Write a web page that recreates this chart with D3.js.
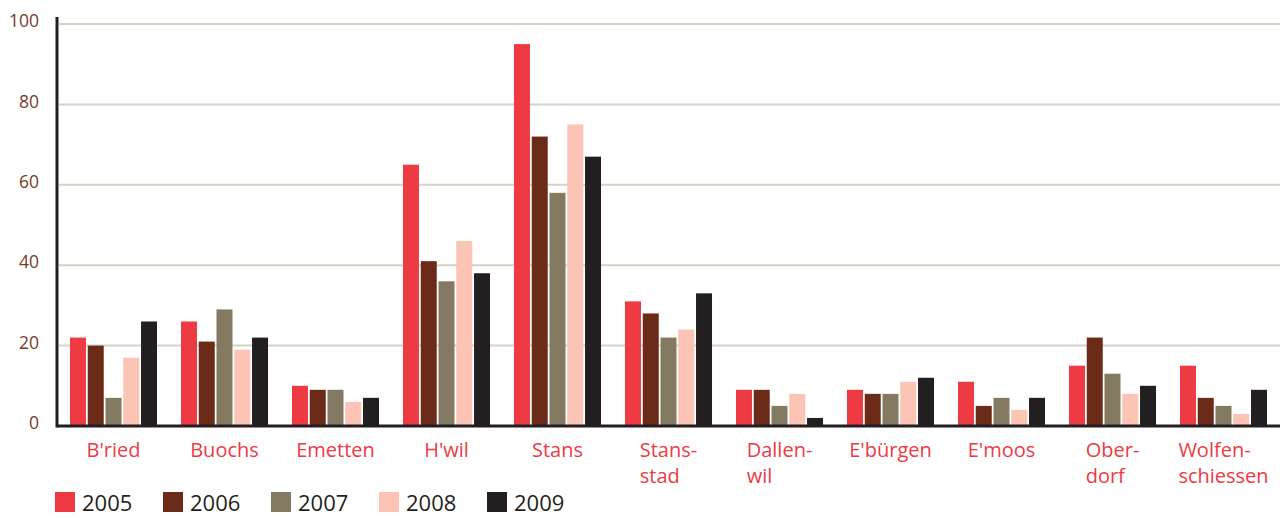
<!DOCTYPE html>
<html>
<head>
<meta charset="utf-8">
<script src="https://cdn.jsdelivr.net/npm/d3@7"></script>
<style>
	body { margin: 0; background: #fff; }
	svg { display: block; font-family: 'Open Sans', 'Noto Sans', sans-serif; }
</style>
</head>
<body>
<div class="svg-container"></div>
<script>
const categories = ['B\'ried', 'Buochs', 'Emetten', 'H\'wil', 'Stans', 'Stans-|stad', 'Dallen-|wil', 'E\'bürgen', 'E\'moos', 'Ober-|dorf', 'Wolfen-|schiessen'];
const years = ['2005', '2006', '2007', '2008', '2009'];
const values2005 = [22, 26, 10, 65, 95, 31, 9, 9, 11, 15, 15];
const values2006 = [20, 21, 9, 41, 72, 28, 9, 8, 5, 22, 7];
const values2007 = [7, 29, 9, 36, 58, 22, 5, 8, 7, 13, 5];
const values2008 = [17, 19, 6, 46, 75, 24, 8, 11, 4, 8, 3];
const values2009 = [26, 22, 7, 38, 67, 33, 2, 12, 7, 10, 9];
const yTicks = [0, 20, 40, 60, 80, 100];

const series = [values2005, values2006, values2007, values2008, values2009];
const colors = ['#ee3a43', '#6b2b18', '#847a62', '#fbc4b5', '#231f20'];

const w = 1280;
const h = 518;
const plotLeft = 57;
const plotTop = 24;
const plotBottom = 426;

const svg = d3
	.select('.svg-container')
	.append('svg')
	.attr('width', w)
	.attr('height', h);

const x = d3.scaleBand().domain(categories).range([plotLeft, w]).paddingInner(0.216).paddingOuter(0.117);
const xs = d3.scaleBand().domain(years).range([0, x.bandwidth()]).paddingInner(0.1);
const y = d3.scaleLinear().domain([0, 100]).range([plotBottom, plotTop]);

// gridlines
svg
	.selectAll('.grid')
	.data(yTicks.filter(d => d > 0))
	.enter()
	.append('line')
	.attr('x1', plotLeft + 2)
	.attr('x2', w)
	.attr('y1', d => y(d))
	.attr('y2', d => y(d))
	.attr('stroke', '#d6d2c6')
	.attr('stroke-width', 2);

// y labels
svg
	.selectAll('.ylab')
	.data(yTicks)
	.enter()
	.append('text')
	.attr('x', 39)
	.attr('y', d => y(d) - 3)
	.attr('dy', '0.35em')
	.attr('text-anchor', 'end')
	.style('font-size', '17.5px')
	.style('fill', '#7a3a28')
	.text(d => d);

// bars
const groups = svg
	.selectAll('.group')
	.data(categories)
	.enter()
	.append('g')
	.attr('transform', d => `translate(${x(d)},0)`);

groups
	.selectAll('rect')
	.data((d, i) => years.map((yr, j) => ({ yr, v: series[j][i], c: colors[j] })))
	.enter()
	.append('rect')
	.attr('x', d => xs(d.yr))
	.attr('width', xs.bandwidth())
	.attr('y', d => y(d.v))
	.attr('height', d => y(0) - y(d.v))
	.attr('fill', d => d.c);

// axes lines
svg.append('line')
	.attr('x1', plotLeft).attr('x2', plotLeft)
	.attr('y1', 17).attr('y2', plotBottom + 1.5)
	.attr('stroke', '#231f20').attr('stroke-width', 3);
svg.append('line')
	.attr('x1', plotLeft).attr('x2', w)
	.attr('y1', plotBottom).attr('y2', plotBottom)
	.attr('stroke', '#231f20').attr('stroke-width', 3);

// category labels, lines left aligned, block centred
groups.each(function (d) {
	const g = d3.select(this);
	const lines = d.split('|');
	const t = g.append('text')
		.style('font-size', '20px')
		.style('fill', '#ee3a43');
	lines.forEach((l, i) => {
		t.append('tspan').attr('x', 0).attr('y', 457 + i * 26).text(l);
	});
	const bw = t.node().getBBox().width;
	t.attr('transform', `translate(${x.bandwidth() / 2 - bw / 2},0)`);
});

// legend
const legend = svg.append('g').attr('id', 'legend');
const item = legend
	.selectAll('g')
	.data(years)
	.enter()
	.append('g')
	.attr('transform', (d, i) => `translate(${55 + i * 108},492)`);
item.append('rect')
	.attr('width', 20)
	.attr('height', 20)
	.attr('fill', (d, i) => colors[i]);
item.append('text')
	.attr('x', 27)
	.attr('y', 19)
	.style('font-size', '22px')
	.style('fill', '#231f20')
	.text(d => d);
</script>
</body>
</html>
